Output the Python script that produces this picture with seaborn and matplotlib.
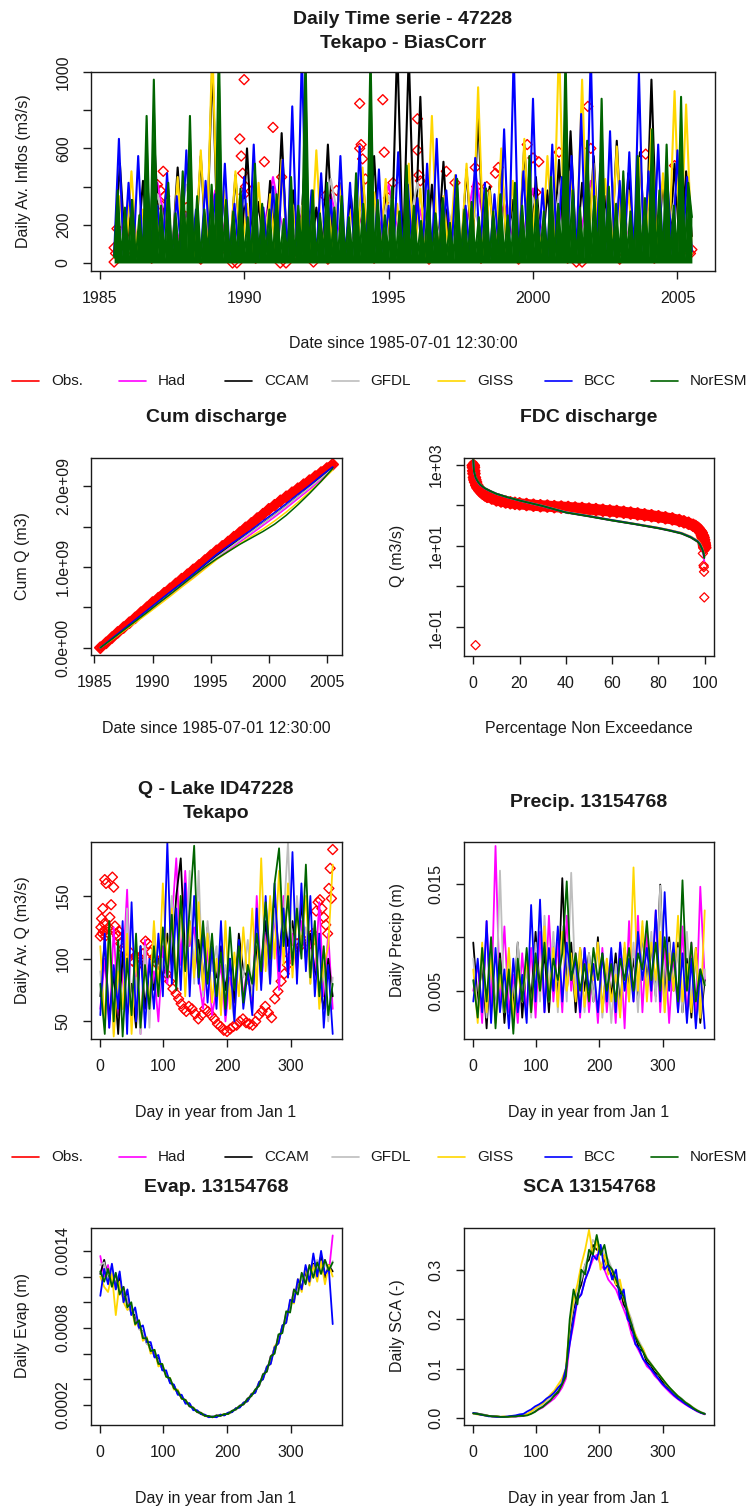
import numpy as np
import pandas as pd
import matplotlib
matplotlib.use("Agg")
import matplotlib.pyplot as plt
from matplotlib.lines import Line2D
from matplotlib.ticker import FixedLocator, FixedFormatter, NullLocator
import seaborn as sns

sns.set_theme(style="white")
plt.rcParams["font.family"] = ["Liberation Sans", "DejaVu Sans"]

# ---------------------------------------------------------------- series
models = ["Had", "CCAM", "GFDL", "GISS", "BCC", "NorESM"]
legend_names = ["Obs.", "Had", "CCAM", "GFDL", "GISS", "BCC", "NorESM"]
colors = {"Obs.": "#FF0000", "Had": "#FF00FF", "CCAM": "#000000", "GFDL": "#BEBEBE",
          "GISS": "#FFD700", "BCC": "#0000FF", "NorESM": "#006400"}

# Daily inflows 1985-07 .. 2005-07 (m3/s), successive low/high flow readings
ts_start, ts_end = 1985.5, 2005.5
ts_had = [40, 300, 25, 420, 30, 260, 20, 380, 35, 310, 25, 450, 30, 280, 20, 360, 40, 240, 25, 410,
          30, 330, 20, 290, 35, 470, 25, 310, 30, 390, 20, 270, 40, 430, 25, 350, 30, 300, 20, 400, 60]
ts_ccam = [35, 520, 25, 330, 40, 430, 20, 610, 30, 380, 25, 500, 35, 270, 20, 560, 40, 1050, 25, 350,
           30, 460, 20, 600, 35, 320, 25, 430, 40, 680, 20, 380, 30, 510, 25, 290, 35, 620, 20, 420,
           40, 350, 25, 470, 30, 560, 20, 390, 35, 1150, 25, 1100, 30, 870, 20, 410, 40, 530, 25, 340,
           30, 490, 20, 780, 35, 400, 25, 560, 40, 330, 20, 620, 30, 450, 25, 380, 35, 540, 20, 690,
           40, 420, 25, 560, 30, 350, 20, 640, 35, 470, 25, 580, 40, 960, 20, 430, 30, 520, 25, 480, 140]
ts_gfdl = [35, 280, 20, 360, 30, 410, 25, 250, 40, 330, 20, 390, 30, 300, 25, 440, 35, 270, 20, 350,
           30, 420, 25, 310, 40, 260, 20, 380, 30, 340, 25, 450, 35, 290, 20, 370, 30, 320, 25, 410, 55]
ts_giss = [30, 350, 20, 480, 35, 280, 25, 400, 40, 330, 20, 450, 30, 290, 25, 590, 35, 1150, 20, 380,
           30, 480, 25, 310, 40, 420, 20, 360, 35, 540, 25, 300, 30, 460, 20, 590, 40, 330, 25, 410,
           35, 280, 20, 500, 30, 370, 25, 440, 40, 310, 20, 520, 35, 390, 25, 770, 30, 350, 20, 460,
           35, 520, 25, 920, 40, 380, 20, 600, 30, 430, 25, 650, 35, 360, 20, 560, 40, 1150, 25, 480,
           30, 960, 20, 520, 35, 440, 25, 610, 30, 380, 20, 550, 40, 700, 25, 470, 35, 900, 30, 830, 50]
ts_bcc = [40, 650, 25, 420, 35, 560, 20, 380, 45, 300, 30, 470, 25, 350, 40, 590, 20, 280, 35, 430,
          30, 360, 15, 520, 40, 310, 25, 450, 35, 620, 20, 290, 45, 400, 30, 540, 25, 820, 35, 1100,
          20, 380, 40, 470, 25, 330, 30, 560, 15, 420, 35, 610, 25, 360, 40, 490, 20, 300, 30, 580,
          25, 410, 35, 340, 20, 520, 40, 650, 30, 380, 25, 460, 35, 300, 20, 550, 45, 420, 30, 360,
          25, 700, 35, 1100, 20, 480, 40, 860, 30, 390, 25, 620, 35, 450, 20, 560, 40, 780, 30, 1100,
          25, 520, 35, 690, 20, 430, 45, 580, 30, 1000, 25, 480, 35, 620, 20, 390, 40, 590, 30, 450, 60]
ts_noresm = [30, 380, 25, 290, 40, 330, 20, 250, 35, 770, 30, 960, 45, 300, 25, 420, 35, 260, 20, 480,
             40, 770, 30, 350, 25, 280, 45, 410, 30, 1150, 20, 330, 40, 270, 25, 390, 35, 240, 30, 520,
             20, 310, 45, 280, 25, 360, 35, 230, 30, 450, 20, 300, 40, 1100, 30, 380, 25, 260, 45, 420,
             30, 290, 20, 350, 35, 240, 25, 470, 40, 310, 30, 1100, 20, 330, 45, 250, 30, 400, 25, 270,
             35, 510, 20, 300, 40, 220, 30, 380, 25, 260, 45, 340, 30, 210, 20, 440, 35, 280, 25, 320,
             40, 240, 30, 390, 20, 270, 45, 360, 30, 250, 25, 420, 35, 300, 20, 560, 40, 330, 30, 270,
             25, 450, 35, 310, 20, 1100, 45, 380, 30, 290, 25, 640, 35, 350, 20, 860, 40, 400, 30, 310,
             25, 480, 35, 270, 20, 560, 45, 340, 30, 700, 25, 380, 35, 620, 20, 300, 40, 870, 30, 420, 240]
ts_models = {"Had": ts_had, "CCAM": ts_ccam, "GFDL": ts_gfdl, "GISS": ts_giss,
             "BCC": ts_bcc, "NorESM": ts_noresm}
ts_obs_year = [1985.5, 1985.5, 1985.55, 1985.6, 1987.0, 1987.1, 1987.15, 1987.2, 1987.25, 1988.0,
               1989.6, 1989.75, 1989.85, 1989.9, 1989.95, 1990.0, 1990.0, 1990.05, 1990.7, 1991.0,
               1991.25, 1991.3, 1991.45, 1992.4, 1992.8, 1993.2, 1994.0, 1994.0, 1994.05, 1994.1,
               1994.2, 1994.8, 1994.85, 1995.0, 1995.15, 1996.0, 1996.0, 1996.05, 1996.1, 1997.0,
               1997.3, 1998.0, 1998.05, 1998.4, 1998.7, 1998.8, 1999.8, 2000.0, 2000.1, 2000.2,
               2000.9, 2001.5, 2001.7, 2001.9, 2002.0, 2003.9, 2004.9, 2005.45, 2005.5,
               1986.0, 1986.8, 1987.6, 1988.5, 1989.3, 1990.4, 1991.9, 1992.9, 1993.6, 1994.5,
               1995.5, 1996.4, 1997.5, 1998.2, 1999.0, 1999.5, 2000.5, 2001.2, 2002.5, 2003.0,
               2003.5, 2004.2, 2005.0]
ts_obs_q = [5, 80, 50, 180, 410, 380, 300, 480, 350, 290,
            0, 0, 650, 560, 470, 960, 360, 400, 530, 710,
            0, 450, 0, 5, 350, 380, 835, 600, 620, 545,
            440, 855, 580, 340, 420, 755, 590, 460, 430, 480,
            420, 500, 400, 400, 470, 500, 620, 550, 370, 530,
            580, 5, 5, 820, 600, 570, 510, 50, 70,
            30, 25, 35, 20, 30, 25, 30, 20, 35, 25,
            30, 20, 30, 25, 35, 20, 30, 25, 30, 20,
            35, 25, 30]

# Cumulative discharge (1e9 m3)
cum_scale = 1e9
cum_obs = [0.00, 0.06, 0.125, 0.19, 0.25, 0.31, 0.37, 0.435, 0.495, 0.56, 0.615, 0.675, 0.73, 0.79,
           0.85, 0.905, 0.965, 1.02, 1.08, 1.14, 1.20, 1.255, 1.31, 1.37, 1.425, 1.485, 1.54, 1.60,
           1.655, 1.715, 1.765, 1.82, 1.87, 1.92, 1.97, 2.02, 2.07, 2.12, 2.17, 2.22, 2.27]
cum_models = {
    "Had":    [0, 0.105, 0.215, 0.325, 0.435, 0.545, 0.655, 0.765, 0.875, 0.99, 1.10, 1.205, 1.31, 1.41, 1.515, 1.62, 1.73, 1.845, 1.96, 2.08, 2.21],
    "CCAM":   [0, 0.11, 0.22, 0.335, 0.45, 0.565, 0.675, 0.79, 0.905, 1.02, 1.135, 1.24, 1.34, 1.44, 1.545, 1.65, 1.76, 1.875, 1.99, 2.11, 2.23],
    "GFDL":   [0, 0.11, 0.22, 0.33, 0.44, 0.555, 0.665, 0.78, 0.89, 1.005, 1.12, 1.225, 1.33, 1.435, 1.54, 1.645, 1.755, 1.87, 1.985, 2.10, 2.22],
    "GISS":   [0, 0.10, 0.205, 0.31, 0.415, 0.525, 0.635, 0.75, 0.86, 0.975, 1.09, 1.19, 1.285, 1.38, 1.47, 1.57, 1.68, 1.80, 1.93, 2.06, 2.20],
    "BCC":    [0, 0.115, 0.23, 0.345, 0.46, 0.575, 0.69, 0.80, 0.915, 1.035, 1.155, 1.26, 1.36, 1.46, 1.57, 1.675, 1.785, 1.90, 2.01, 2.13, 2.24],
    "NorESM": [0, 0.105, 0.215, 0.325, 0.435, 0.55, 0.66, 0.775, 0.89, 1.0, 1.10, 1.19, 1.28, 1.36, 1.44, 1.53, 1.64, 1.77, 1.91, 2.06, 2.22],
}

# Flow duration curves
fdc_obs_pct = [0, 0.1, 0.2, 0.3, 0.5, 0.7, 1, 1.5, 2, 3, 4, 5, 6, 8, 10, 12, 14, 16, 18, 20,
               23, 26, 29, 32, 35, 38, 41, 44, 47, 50, 53, 56, 59, 62, 65, 68, 71, 74, 77, 80,
               83, 86, 89, 91, 93, 95, 96, 97, 98, 98.5, 99, 99.3, 99.5, 99.7, 99.8, 99.9, 100]
fdc_obs_q = [950, 850, 700, 600, 480, 420, 370, 310, 270, 230, 200, 180, 165, 150, 135, 127, 120, 115, 111, 108,
             104, 100, 97, 95, 92, 90, 88, 85, 83, 80, 78, 75, 72, 70, 67, 64, 61, 58, 55, 52,
             49, 46, 42, 39, 36, 32, 30, 27, 23, 21, 18, 16, 14, 12, 11, 10, 9]
fdc_out_pct = [1, 99.2, 99.5, 99.6, 99.7, 99.8]
fdc_out_q = [0.036, 6.5, 3.3, 3.0, 2.3, 0.54]
fdc_pct = [0, 0.3, 1, 2, 3, 5, 7.5, 10, 15, 20, 30, 40, 50, 60, 70, 80, 85, 90, 94, 97, 98, 99, 99.5, 99.8]
fdc_models = {
    "Had":    [1100, 660, 465, 370, 315, 258, 218, 189, 154, 129, 94, 66, 53, 42, 34, 27, 23.5, 20, 16, 12.5, 10.5, 7.8, 5.5, 4.2],
    "CCAM":   [1350, 710, 485, 382, 324, 263, 221, 191, 156, 131, 96, 67, 54, 42.5, 34.5, 27.5, 24, 20.5, 16.5, 13, 11, 8.4, 6.8, 5.3],
    "GFDL":   [1280, 695, 478, 379, 321, 261, 221, 190, 155, 130, 95, 67, 54, 42.5, 34.5, 27.5, 24, 20.5, 16.5, 13, 11, 8.2, 6.6, 5.1],
    "GISS":   [1200, 690, 475, 378, 322, 265, 224, 193, 158, 132, 97, 68, 55, 43.5, 35, 28, 24.5, 21, 17, 13.5, 11.5, 8.8, 7, 5.5],
    "BCC":    [1250, 680, 470, 375, 318, 262, 222, 192, 156, 131, 96, 67, 54, 43, 34.5, 27.5, 24, 20.5, 16.5, 13, 11, 8.3, 6.6, 5.2],
    "NorESM": [1300, 700, 480, 380, 320, 260, 220, 190, 155, 130, 95, 66, 53, 42, 34, 27, 23.5, 20, 16, 12.5, 10.5, 8, 6.5, 5],
}

# Day-of-year climatologies
q_models = {
    "Had":    [60, 100, 45, 125, 55, 85, 155, 50, 95, 40, 115, 60, 90, 50, 110, 80, 130, 180, 95, 170, 110, 125, 85, 60, 110, 55, 75,
               95, 50, 85, 60, 110, 70, 95, 60, 150, 80, 120, 95, 135, 75, 150, 85, 120, 90, 130, 100, 115, 85, 145, 70, 120, 60],
    "CCAM":   [70, 115, 50, 90, 40, 105, 55, 80, 45, 110, 60, 95, 75, 100, 85, 120, 95, 150, 180, 100, 130, 90, 115, 80, 125, 95, 85,
               110, 75, 100, 65, 120, 90, 85, 70, 110, 95, 130, 85, 150, 100, 140, 110, 130, 95, 145, 100, 120, 90, 80, 60, 100, 70],
    "GFDL":   [90, 50, 120, 40, 100, 60, 140, 55, 85, 40, 110, 45, 125, 70, 100, 90, 150, 85, 130, 95, 170, 80, 170, 70, 130, 90, 110,
               60, 95, 75, 50, 105, 85, 115, 70, 125, 90, 110, 80, 140, 95, 130, 193, 90, 150, 110, 125, 80, 130, 65, 90, 50, 85],
    "GISS":   [110, 45, 125, 38, 90, 60, 120, 40, 105, 50, 95, 65, 130, 75, 160, 90, 140, 80, 150, 70, 130, 85, 145, 75, 120, 65, 100,
               55, 130, 60, 105, 70, 125, 80, 140, 75, 180, 90, 150, 100, 170, 95, 160, 85, 135, 110, 150, 80, 125, 60, 95, 110, 175],
    "BCC":    [55, 120, 45, 95, 60, 130, 40, 145, 50, 110, 45, 100, 60, 120, 70, 193, 80, 140, 75, 160, 70, 150, 80, 120, 65, 110, 60,
               130, 55, 100, 50, 115, 60, 90, 55, 140, 75, 150, 80, 160, 90, 140, 85, 185, 80, 160, 90, 150, 70, 120, 45, 95, 40],
    "NorESM": [80, 40, 130, 50, 115, 38, 100, 55, 120, 45, 95, 60, 110, 70, 125, 85, 135, 75, 150, 90, 140, 190, 85, 130, 80, 120, 70,
               105, 60, 125, 75, 110, 65, 95, 80, 120, 90, 145, 100, 160, 188, 110, 150, 95, 140, 100, 175, 85, 130, 70, 110, 55, 80],
}
q_obs_day = [1, 2, 3, 4, 5, 6, 7, 8, 9, 10, 12, 14, 16, 18, 20, 22, 24, 26, 28, 30,
             33, 36, 40, 44, 48, 52, 56, 60, 64, 68, 72, 76, 80, 85, 90, 95, 100, 105, 110, 115,
             120, 124, 128, 132, 136, 140, 145, 150, 155, 160, 165, 170, 175, 180, 185, 190, 195, 200, 205, 210,
             215, 220, 225, 230, 235, 240, 245, 250, 255, 260, 265, 270, 275, 280, 285, 290, 295, 300, 305, 310,
             315, 320, 325, 330, 335, 340, 343, 346, 349, 352, 355, 358, 360, 362, 364, 366]
q_obs = [118, 125, 132, 120, 140, 122, 128, 163, 118, 160, 121, 125, 133, 143, 165, 157, 126, 120, 118, 122,
         112, 108, 103, 100, 105, 98, 102, 95, 100, 104, 114, 112, 105, 101, 96, 99, 92, 88, 82, 76,
         72, 68, 64, 60, 58, 62, 60, 56, 52, 55, 60, 58, 55, 52, 48, 46, 43, 42, 44, 46,
         47, 50, 52, 49, 48, 47, 50, 55, 58, 62, 57, 53, 68, 74, 82, 88, 95, 102, 108, 112,
         110, 115, 118, 112, 120, 138, 145, 147, 140, 133, 127, 120, 156, 172, 148, 187]

p_models = {
    "Had":    [0.005, 0.0075, 0.002, 0.0115, 0.003, 0.0185, 0.004, 0.011, 0.003, 0.0065, 0.002, 0.0085, 0.003, 0.009, 0.0025, 0.0105, 0.003, 0.012,
               0.004, 0.0095, 0.003, 0.012, 0.005, 0.0085, 0.0025, 0.009, 0.003, 0.0075, 0.002, 0.009, 0.003, 0.008, 0.002, 0.0095, 0.0015, 0.0115,
               0.004, 0.012, 0.003, 0.0105, 0.004, 0.0125, 0.003, 0.0095, 0.002, 0.0085, 0.003, 0.011, 0.0025, 0.0095, 0.002, 0.0147, 0.006],
    "CCAM":   [0.0095, 0.004, 0.0075, 0.0015, 0.009, 0.003, 0.0085, 0.002, 0.007, 0.0035, 0.0095, 0.0025, 0.008, 0.004, 0.0105, 0.005, 0.0085, 0.003,
               0.0095, 0.004, 0.0155, 0.005, 0.0095, 0.003, 0.009, 0.005, 0.0085, 0.004, 0.01, 0.003, 0.0075, 0.0045, 0.0085, 0.0035, 0.009, 0.005,
               0.008, 0.004, 0.0105, 0.006, 0.0095, 0.0045, 0.0149, 0.004, 0.01, 0.005, 0.0095, 0.003, 0.008, 0.0025, 0.009, 0.002, 0.006],
    "GFDL":   [0.008, 0.003, 0.0085, 0.0025, 0.0095, 0.002, 0.0162, 0.003, 0.0085, 0.002, 0.0095, 0.004, 0.007, 0.0025, 0.0095, 0.004, 0.012, 0.005,
               0.0105, 0.003, 0.011, 0.004, 0.016, 0.005, 0.009, 0.003, 0.0085, 0.004, 0.0095, 0.0025, 0.008, 0.002, 0.0075, 0.003, 0.0085, 0.004,
               0.0095, 0.003, 0.011, 0.005, 0.0105, 0.004, 0.0148, 0.003, 0.0095, 0.005, 0.009, 0.003, 0.0105, 0.004, 0.0085, 0.0025, 0.007],
    "GISS":   [0.007, 0.002, 0.0095, 0.003, 0.008, 0.002, 0.0065, 0.003, 0.009, 0.0025, 0.007, 0.004, 0.008, 0.003, 0.0075, 0.005, 0.011, 0.004,
               0.009, 0.0035, 0.0105, 0.005, 0.0085, 0.004, 0.009, 0.0035, 0.0075, 0.006, 0.0095, 0.003, 0.008, 0.004, 0.0065, 0.0025, 0.0095, 0.004,
               0.0165, 0.005, 0.0115, 0.004, 0.0095, 0.006, 0.0105, 0.003, 0.0085, 0.005, 0.012, 0.004, 0.0075, 0.003, 0.009, 0.0025, 0.0125],
    "BCC":    [0.004, 0.008, 0.003, 0.0115, 0.002, 0.009, 0.003, 0.007, 0.0015, 0.008, 0.003, 0.0065, 0.002, 0.013, 0.004, 0.0135, 0.003, 0.009,
               0.005, 0.011, 0.004, 0.0095, 0.006, 0.008, 0.003, 0.009, 0.005, 0.0075, 0.003, 0.0085, 0.004, 0.009, 0.003, 0.0095, 0.005, 0.008,
               0.004, 0.0105, 0.006, 0.009, 0.005, 0.0125, 0.004, 0.0142, 0.005, 0.0095, 0.003, 0.0085, 0.002, 0.008, 0.0015, 0.007, 0.0015],
    "NorESM": [0.006, 0.0025, 0.009, 0.004, 0.01, 0.0015, 0.008, 0.003, 0.007, 0.001, 0.008, 0.004, 0.009, 0.003, 0.0085, 0.005, 0.0095, 0.004,
               0.008, 0.006, 0.0085, 0.0152, 0.006, 0.0085, 0.005, 0.0075, 0.004, 0.009, 0.006, 0.0085, 0.005, 0.0075, 0.004, 0.008, 0.006, 0.009,
               0.005, 0.0085, 0.007, 0.0115, 0.006, 0.0095, 0.005, 0.01, 0.006, 0.0085, 0.004, 0.0153, 0.005, 0.0095, 0.004, 0.007, 0.0055],
}

# Evaporation in units of 1e-4 m
evap_scale = 1e-4
e_models = {
    "Had":    [13.6, 12.0, 12.9, 11.3, 12.2, 10.8, 11.2, 9.8, 9.6, 8.5, 8.4, 7.2, 7.1, 6.2, 6.1, 5.2, 5.0, 4.3, 4.0, 3.3,
               3.1, 2.5, 2.4, 1.9, 1.8, 1.45, 1.4, 1.15, 1.1, 1.05, 1.2, 1.15, 1.3, 1.3, 1.55, 1.65, 1.95, 2.05, 2.5, 2.7,
               3.2, 3.5, 4.4, 4.6, 5.8, 6.1, 7.4, 7.7, 9.2, 9.4, 11.0, 10.7, 12.2, 11.5, 12.9, 12.0, 13.2, 12.4, 13.3, 12.3, 15.2],
    "CCAM":   [12.2, 13.3, 11.8, 12.5, 11.2, 11.9, 10.3, 10.6, 9.1, 9.0, 8.0, 7.7, 6.8, 6.6, 5.8, 5.6, 4.8, 4.5, 3.8, 3.5,
               2.9, 2.7, 2.2, 2.1, 1.7, 1.5, 1.3, 1.2, 1.1, 1.1, 1.1, 1.25, 1.2, 1.4, 1.45, 1.75, 1.85, 2.15, 2.3, 2.8,
               3.0, 3.7, 4.1, 4.9, 5.4, 6.5, 6.9, 8.1, 8.6, 9.9, 10.2, 11.4, 11.2, 12.3, 11.6, 13.0, 12.1, 13.6, 11.9, 12.9, 12.4],
    "GFDL":   [12.9, 13.1, 11.7, 12.5, 11.0, 11.6, 10.2, 10.5, 9.1, 9.3, 7.9, 7.7, 6.8, 6.5, 5.8, 5.5, 4.8, 4.5, 3.8, 3.5,
               2.9, 2.7, 2.3, 2.1, 1.7, 1.55, 1.35, 1.25, 1.1, 1.15, 1.15, 1.2, 1.3, 1.35, 1.55, 1.65, 1.95, 2.1, 2.45, 2.7,
               3.2, 3.5, 4.3, 4.7, 5.6, 6.2, 7.2, 7.8, 9.0, 9.5, 10.8, 10.9, 12.0, 11.5, 12.8, 12.1, 13.3, 12.4, 13.1, 12.3, 13.2],
    "GISS":   [12.0, 11.2, 10.8, 12.2, 9.0, 11.6, 10.0, 9.4, 9.6, 8.2, 8.6, 7.0, 7.3, 6.0, 6.3, 5.0, 5.2, 4.2, 4.1, 3.2,
               3.2, 2.5, 2.4, 1.95, 1.8, 1.45, 1.4, 1.15, 1.1, 1.05, 1.15, 1.2, 1.3, 1.3, 1.5, 1.75, 1.85, 2.2, 2.3, 2.9,
               3.0, 3.8, 4.0, 5.0, 5.2, 6.6, 6.8, 8.2, 8.4, 10.1, 9.9, 11.8, 10.8, 12.7, 11.3, 12.9, 11.6, 13.2, 11.4, 12.9, 12.0],
    "BCC":    [10.5, 12.6, 11.4, 13.0, 11.0, 12.4, 10.0, 11.0, 9.0, 9.6, 8.0, 8.2, 6.9, 6.9, 5.7, 5.9, 4.7, 4.7, 3.7, 3.6,
               2.8, 2.8, 2.1, 2.15, 1.6, 1.6, 1.3, 1.25, 1.05, 1.1, 1.05, 1.25, 1.2, 1.4, 1.45, 1.75, 1.8, 2.2, 2.3, 2.85,
               2.95, 3.8, 4.0, 5.0, 5.2, 6.5, 6.8, 8.2, 8.4, 10.2, 10.0, 11.8, 11.0, 12.9, 11.6, 13.8, 12.0, 14.0, 12.2, 12.6, 8.3],
    "NorESM": [12.4, 11.6, 12.6, 11.2, 12.3, 10.6, 11.2, 9.6, 10.0, 8.3, 8.6, 7.2, 7.2, 6.2, 6.3, 5.2, 5.2, 4.2, 4.1, 3.3,
               3.1, 2.5, 2.4, 1.9, 1.8, 1.45, 1.4, 1.15, 1.15, 1.05, 1.2, 1.15, 1.3, 1.3, 1.55, 1.65, 1.95, 2.05, 2.5, 2.7,
               3.2, 3.5, 4.4, 4.6, 5.8, 6.0, 7.5, 7.6, 9.3, 9.2, 11.0, 10.6, 12.3, 11.4, 12.9, 11.9, 13.1, 12.2, 13.3, 12.5, 13.1],
}

# Snow covered area fraction
s_models = {
    "Had":    [0.010, 0.009, 0.008, 0.006, 0.005, 0.004, 0.003, 0.003, 0.003, 0.003, 0.003, 0.004, 0.004, 0.005, 0.007, 0.010,
               0.014, 0.018, 0.022, 0.028, 0.034, 0.040, 0.050, 0.062, 0.080, 0.15, 0.19, 0.24, 0.25, 0.28, 0.30, 0.32, 0.33,
               0.31, 0.30, 0.28, 0.27, 0.26, 0.24, 0.22, 0.20, 0.17, 0.15, 0.135, 0.12, 0.105, 0.098, 0.086, 0.078, 0.068,
               0.060, 0.052, 0.045, 0.039, 0.033, 0.028, 0.023, 0.019, 0.014, 0.011, 0.008],
    "CCAM":   [0.010, 0.010, 0.008, 0.007, 0.005, 0.004, 0.004, 0.003, 0.003, 0.003, 0.004, 0.004, 0.005, 0.006, 0.008, 0.011,
               0.016, 0.020, 0.026, 0.031, 0.040, 0.046, 0.058, 0.070, 0.095, 0.17, 0.22, 0.25, 0.27, 0.31, 0.32, 0.35, 0.34,
               0.34, 0.32, 0.30, 0.29, 0.27, 0.26, 0.23, 0.215, 0.18, 0.165, 0.14, 0.135, 0.113, 0.107, 0.093, 0.087, 0.074,
               0.067, 0.057, 0.051, 0.042, 0.038, 0.030, 0.026, 0.020, 0.016, 0.012, 0.009],
    "GFDL":   [0.010, 0.009, 0.008, 0.006, 0.005, 0.004, 0.004, 0.003, 0.003, 0.003, 0.004, 0.004, 0.005, 0.006, 0.008, 0.012,
               0.017, 0.022, 0.027, 0.034, 0.041, 0.050, 0.060, 0.075, 0.10, 0.18, 0.23, 0.26, 0.28, 0.31, 0.33, 0.36, 0.35,
               0.35, 0.33, 0.32, 0.30, 0.29, 0.27, 0.25, 0.22, 0.20, 0.17, 0.155, 0.14, 0.122, 0.112, 0.10, 0.09, 0.08,
               0.070, 0.061, 0.053, 0.046, 0.040, 0.033, 0.028, 0.022, 0.017, 0.013, 0.010],
    "GISS":   [0.010, 0.008, 0.007, 0.006, 0.005, 0.004, 0.004, 0.003, 0.004, 0.003, 0.004, 0.005, 0.006, 0.007, 0.009, 0.014,
               0.020, 0.026, 0.030, 0.038, 0.048, 0.056, 0.068, 0.080, 0.10, 0.19, 0.24, 0.27, 0.31, 0.34, 0.38, 0.33, 0.36,
               0.30, 0.33, 0.29, 0.30, 0.27, 0.28, 0.24, 0.22, 0.19, 0.17, 0.15, 0.14, 0.12, 0.11, 0.10, 0.09, 0.08,
               0.069, 0.060, 0.052, 0.045, 0.038, 0.032, 0.027, 0.021, 0.016, 0.012, 0.009],
    "BCC":    [0.011, 0.009, 0.007, 0.006, 0.004, 0.004, 0.003, 0.003, 0.003, 0.004, 0.005, 0.006, 0.008, 0.009, 0.014, 0.018,
               0.024, 0.028, 0.033, 0.040, 0.045, 0.052, 0.062, 0.070, 0.10, 0.15, 0.20, 0.24, 0.25, 0.28, 0.30, 0.33, 0.32,
               0.35, 0.30, 0.31, 0.28, 0.30, 0.24, 0.26, 0.20, 0.19, 0.15, 0.14, 0.12, 0.11, 0.10, 0.09, 0.08, 0.07,
               0.062, 0.055, 0.047, 0.040, 0.035, 0.029, 0.024, 0.019, 0.015, 0.011, 0.009],
    "NorESM": [0.010, 0.009, 0.008, 0.006, 0.005, 0.004, 0.004, 0.003, 0.003, 0.003, 0.004, 0.004, 0.005, 0.005, 0.006, 0.009,
               0.013, 0.019, 0.023, 0.030, 0.036, 0.046, 0.052, 0.068, 0.085, 0.20, 0.26, 0.23, 0.30, 0.29, 0.34, 0.33, 0.37,
               0.33, 0.35, 0.31, 0.30, 0.28, 0.26, 0.245, 0.215, 0.19, 0.165, 0.15, 0.135, 0.12, 0.11, 0.10, 0.09, 0.08,
               0.070, 0.061, 0.053, 0.045, 0.039, 0.032, 0.027, 0.021, 0.016, 0.012, 0.009],
}

# ---------------------------------------------------------------- layout
W, H = 750, 1508
fig = plt.figure(figsize=(W / 100, H / 100), dpi=100)
fig.patch.set_facecolor("white")
INK = "#1a1a1a"


def rect(l, t, r, b):
    return [l / W, 1 - b / H, (r - l) / W, (b - t) / H]


def ftext(x, y, s, **kw):
    kw.setdefault("color", INK)
    fig.text(x / W, 1 - y / H, s, ha="center", va="center", **kw)


def long_frame(series, x0, x1, scale=1.0):
    parts = []
    for name in models:
        vals = np.asarray(series[name], dtype=float) * scale
        parts.append(pd.DataFrame({"x": np.linspace(x0, x1, len(vals)), "y": vals, "model": name}))
    return pd.concat(parts, ignore_index=True)


def draw_models(ax, df, lw):
    sns.lineplot(data=df, x="x", y="y", hue="model", hue_order=models, palette=colors,
                 estimator=None, sort=False, errorbar=None, lw=lw, legend=False, ax=ax)


def draw_obs(ax, x, y, s=22, lw=0.9, band=0.0):
    if band:
        ax.plot(x, y, color=colors["Obs."], lw=band, solid_capstyle="round",
                solid_joinstyle="round", zorder=1.4)
    ax.scatter(x, y, marker="D", s=s, facecolors="none", edgecolors=colors["Obs."],
               linewidths=lw, zorder=1.5)


def setup(ax, xlim, ylim, xt, xl, yt, yl, log=False):
    if log:
        ax.set_yscale("log")
    ax.set_xlim(*xlim)
    ax.set_ylim(*ylim)
    ax.xaxis.set_major_locator(FixedLocator(xt))
    ax.xaxis.set_major_formatter(FixedFormatter(xl))
    ax.yaxis.set_major_locator(FixedLocator(yt))
    ax.yaxis.set_major_formatter(FixedFormatter(yl))
    ax.xaxis.set_minor_locator(NullLocator())
    ax.yaxis.set_minor_locator(NullLocator())
    ax.tick_params(axis="both", which="major", direction="out", length=6, width=1.0,
                   color=INK, labelcolor=INK, labelsize=11.5, pad=8.5,
                   bottom=True, left=True, top=False, right=False)
    ax.tick_params(axis="y", labelrotation=90)
    for lab in ax.get_yticklabels():
        lab.set_verticalalignment("center")
    for sp in ax.spines.values():
        sp.set_visible(True)
        sp.set_color(INK)
        sp.set_linewidth(1.0)
    ax.set_xlabel("")
    ax.set_ylabel("")
    ax.set_facecolor("white")


def legend_row(y):
    for k, name in enumerate(legend_names):
        x0 = 12 + 106.5 * k
        fig.add_artist(Line2D([x0 / W, (x0 + 27) / W], [1 - y / H, 1 - y / H],
                              color=colors[name], lw=1.2, transform=fig.transFigure))
        fig.text((x0 + 39) / W, 1 - y / H, name, ha="left", va="center",
                 fontsize=11, color=INK)


TITLE = dict(fontsize=14, fontweight="bold")
LAB = dict(fontsize=11.5)
LCOL = (91, 342)
RCOL = (464, 714)
yr_ticks = [1985, 1990, 1995, 2000, 2005]
yr_labels = [str(v) for v in yr_ticks]
doy_ticks = [0, 100, 200, 300]
doy_labels = ["0", "100", "200", "300"]

# ---------------------------------------------------------------- daily series
ax = fig.add_axes(rect(91, 72, 715, 271))
draw_obs(ax, ts_obs_year, ts_obs_q, s=26, lw=1.0)
draw_models(ax, long_frame(ts_models, ts_start, ts_end), lw=1.5)
# the last model forms the dense body of the record
ax.fill_between(np.linspace(ts_start, ts_end, len(ts_noresm)), 0, ts_noresm,
                color=colors["NorESM"], lw=0, zorder=2.1)
setup(ax, (1984.7, 2006.3), (-42, 1000), yr_ticks, yr_labels,
      [0, 200, 400, 600, 800, 1000], ["0", "200", "", "600", "", "1000"])
ftext(403, 20, "Daily Time serie - 47228", **TITLE)
ftext(403, 43, "Tekapo - BiasCorr", **TITLE)
ftext(403, 343, "Date since 1985-07-01 12:30:00", **LAB)
ftext(24, 171, "Daily Av. Inflos (m3/s)", rotation=90, **LAB)

legend_row(381)

# ---------------------------------------------------------------- cumulative discharge
ax = fig.add_axes(rect(LCOL[0], 458, LCOL[1], 655))
draw_obs(ax, np.linspace(ts_start, ts_end, len(cum_obs)), np.asarray(cum_obs) * cum_scale,
         s=30, lw=1.4, band=6)
draw_models(ax, long_frame(cum_models, ts_start, ts_end, cum_scale), lw=1.1)
setup(ax, (1984.7, 2006.3), (-0.09e9, 2.35e9), yr_ticks, yr_labels,
      [0, 0.5e9, 1.0e9, 1.5e9, 2.0e9], ["0.0e+00", "", "1.0e+09", "", "2.0e+09"])
ftext(216, 418, "Cum discharge", **TITLE)
ftext(216, 728, "Date since 1985-07-01 12:30:00", **LAB)
ftext(23, 556, "Cum Q (m3)", rotation=90, **LAB)

# ---------------------------------------------------------------- flow duration curve
ax = fig.add_axes(rect(RCOL[0], 458, RCOL[1], 656))
draw_obs(ax, fdc_obs_pct, fdc_obs_q, s=34, lw=1.6, band=8)
draw_obs(ax, fdc_out_pct, fdc_out_q)
fdc_df = pd.concat([pd.DataFrame({"x": fdc_pct, "y": fdc_models[m], "model": m}) for m in models],
                   ignore_index=True)
draw_models(ax, fdc_df, lw=1.3)
setup(ax, (-4, 104), (0.0195, 1450), [0, 20, 40, 60, 80, 100], ["0", "20", "40", "60", "80", "100"],
      [0.1, 1, 10, 100, 1000], ["1e-01", "", "1e+01", "", "1e+03"], log=True)
ftext(589, 418, "FDC discharge", **TITLE)
ftext(589, 728, "Percentage Non Exceedance", **LAB)
ftext(398, 556, "Q (m3/s)", rotation=90, **LAB)

# ---------------------------------------------------------------- lake inflow climatology
ax = fig.add_axes(rect(LCOL[0], 842, LCOL[1], 1039))
draw_obs(ax, q_obs_day, q_obs, s=26, lw=1.0)
draw_models(ax, long_frame(q_models, 1, 366), lw=1.3)
setup(ax, (-13.6, 380.6), (36, 193), doy_ticks, doy_labels, [50, 100, 150], ["50", "100", "150"])
ftext(216, 790, "Q - Lake ID47228", **TITLE)
ftext(216, 813, "Tekapo", **TITLE)
ftext(216, 1112, "Day in year from Jan 1", **LAB)
ftext(23, 940, "Daily Av. Q (m3/s)", rotation=90, **LAB)

# ---------------------------------------------------------------- precipitation
ax = fig.add_axes(rect(RCOL[0], 842, RCOL[1], 1039))
draw_models(ax, long_frame(p_models, 1, 366), lw=1.3)
setup(ax, (-13.6, 380.6), (0.00051, 0.01887), doy_ticks, doy_labels,
      [0.005, 0.010, 0.015], ["0.005", "", "0.015"])
ftext(589, 803, "Precip. 13154768", **TITLE)
ftext(589, 1112, "Day in year from Jan 1", **LAB)
ftext(398, 940, "Daily Precip (m)", rotation=90, **LAB)

legend_row(1157)

# ---------------------------------------------------------------- evaporation
ax = fig.add_axes(rect(LCOL[0], 1228, LCOL[1], 1425))
draw_models(ax, long_frame(e_models, 1, 366, evap_scale), lw=1.3)
setup(ax, (-13.6, 380.6), (0.0000448, 0.001578), doy_ticks, doy_labels,
      [0.0002, 0.0004, 0.0006, 0.0008, 0.0010, 0.0012, 0.0014],
      ["0.0002", "", "", "0.0008", "", "", "0.0014"])
ftext(216, 1187, "Evap. 13154768", **TITLE)
ftext(216, 1498, "Day in year from Jan 1", **LAB)
ftext(23, 1326, "Daily Evap (m)", rotation=90, **LAB)

# ---------------------------------------------------------------- snow cover
ax = fig.add_axes(rect(RCOL[0], 1228, RCOL[1], 1425))
draw_models(ax, long_frame(s_models, 1, 366), lw=1.3)
setup(ax, (-13.6, 380.6), (-0.0134, 0.384), doy_ticks, doy_labels,
      [0.0, 0.1, 0.2, 0.3], ["0.0", "0.1", "0.2", "0.3"])
ftext(589, 1187, "SCA 13154768", **TITLE)
ftext(589, 1498, "Day in year from Jan 1", **LAB)
ftext(398, 1326, "Daily SCA (-)", rotation=90, **LAB)

fig.savefig("out.png", dpi=100)
